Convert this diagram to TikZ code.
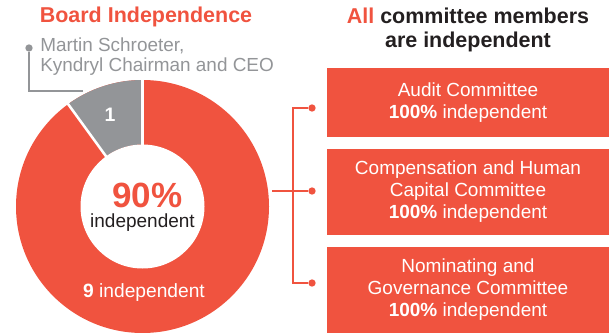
\documentclass[tikz,border=0pt]{standalone}
\usepackage{fontspec}
\setmainfont{Liberation Sans}
\usepackage{xcolor}
\usepackage{tikz}
\usetikzlibrary{calc}
\definecolor{kred}{HTML}{F0533F}
\definecolor{kgray}{HTML}{939598}
\definecolor{kdark}{HTML}{231F20}
\tikzset{
  combox/.style={fill=kred, text=white, align=center, minimum width=211.5pt, inner sep=0pt, font=\fontsize{14.25}{16.5}\selectfont},
  dotmark/.style={circle, fill=kred, inner sep=0pt, minimum size=5.5pt},
  kline/.style={kred, line width=1pt},
  bigtitle/.style={inner sep=0pt, font=\fontsize{16.1}{18}\selectfont\bfseries}
}

\begin{document}
\begin{tikzpicture}[x=0.75pt,y=0.75pt]
   \useasboundingbox (0,0) rectangle (609,332);
   %% donut
   \coordinate (c) at (142.5,125.5);
   \fill [kred] (c) circle (126.5);
   \fill [kgray] ($(c)+(90:126.5)$) arc (90:126:126.5) -- ($(c)+(126:62)$) arc (126:90:62) -- cycle;
   \fill [white] (c) circle (62);
   \draw [white, line width=1.9pt] ($(c)+(90:60)$) -- ($(c)+(90:130)$);
   \draw [white, line width=1.9pt] ($(c)+(126:60)$) -- ($(c)+(126:130)$);
   \node [inner sep=0pt, text=white, font=\fontsize{14.6}{16}\selectfont\bfseries] (one) at (110,217) {1};
   \node [inner sep=0pt, text=kred, font=\fontsize{26.25}{28}\selectfont\bfseries] (pct) at (147.5,137) {90\%};
   \node [inner sep=0pt, text=kdark, font=\fontsize{14.25}{16}\selectfont] (indep) at (142.5,109.5) {independent};
   \node [inner sep=0pt, text=white, font=\fontsize{14.4}{16}\selectfont] (nine) at (144,39) {\textbf{9} independent};
   %% left title and chairman
   \node [bigtitle, text=kred] (board) at (146,315) {Board Independence};
   \node [anchor=west, align=left, inner sep=0pt, text=kgray, font=\fontsize{14.2}{15}\selectfont] (ceo) at (40,275) {Martin Schroeter,\\Kyndryl Chairman and CEO};
   \node [circle, fill=kgray, inner sep=0pt, minimum size=5.5pt] (ceodot) at (29,284) {};
   \coordinate (ceoend) at (83,241);
   \draw [kgray, line width=1pt] (ceodot) |- (ceoend);
   %% committees
   \node [bigtitle, align=center, text=kdark, font=\fontsize{16.1}{18}\selectfont\bfseries] (comtitle) at (468,302) {\textcolor{kred}{All} committee members\\are independent};
   \node [combox, minimum height=51.75pt] (audit) at (468,229.5) {Audit Committee\\\textbf{100\%} independent};
   \node [combox, minimum height=64.5pt] (comp) at (468,140) {Compensation and Human\\Capital Committee\\\textbf{100\%} independent};
   \node [combox, minimum height=64.5pt] (nom) at (468,42) {Nominating and\\Governance Committee\\\textbf{100\%} independent};
   %% bracket
   \node [dotmark] (d1) at (312,224) {};
   \node [dotmark] (d2) at (312,141) {};
   \node [dotmark] (d3) at (312,49) {};
   \coordinate (b1) at (293,224);
   \coordinate (b3) at (293,49);
   \coordinate (ring) at (272,141);
   \draw [kline] (d1) -- (b1) -- (b3) -- (d3);
   \draw [kline] (ring) -- (d2);
\end{tikzpicture}
\end{document}
